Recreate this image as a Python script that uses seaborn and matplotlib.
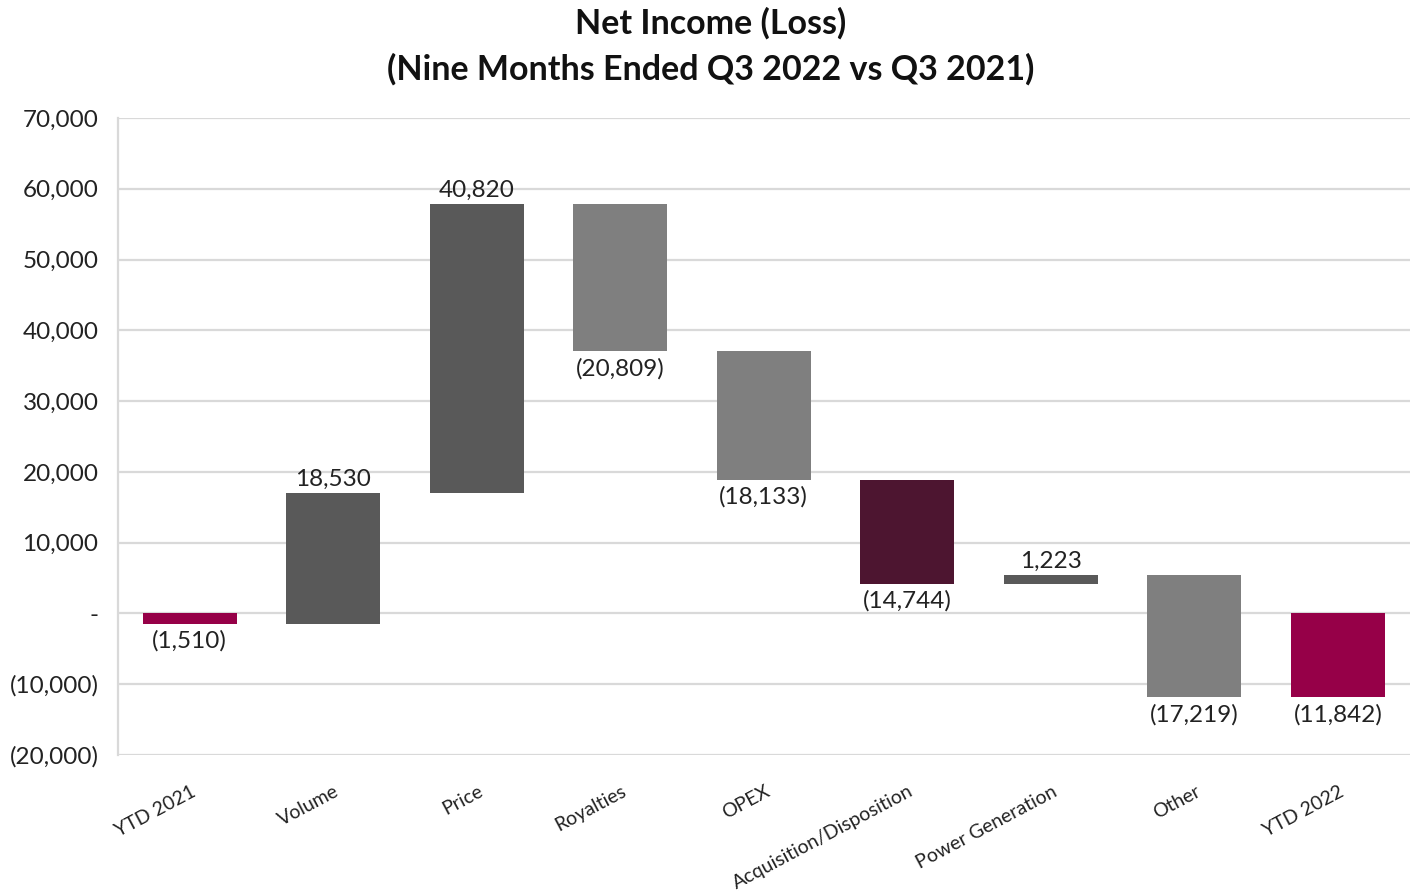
import matplotlib
matplotlib.use("Agg")
import matplotlib.pyplot as plt
import matplotlib.transforms as mtrans
import seaborn as sns
import pandas as pd

categories = ["YTD 2021", "Volume", "Price", "Royalties", "OPEX",
              "Acquisition/Disposition", "Power Generation", "Other", "YTD 2022"]
changes = [-1510, 18530, 40820, -20809, -18133, -14744, 1223, -17219, -11842]
is_total = [True, False, False, False, False, False, False, False, True]
bar_colors = ["#960048", "#595959", "#595959", "#7f7f7f", "#7f7f7f",
              "#4d1530", "#595959", "#7f7f7f", "#960048"]
y_ticks = [-20000, -10000, 0, 10000, 20000, 30000, 40000, 50000, 60000, 70000]
y_tick_labels = ["(20,000)", "(10,000)", "-", "10,000", "20,000", "30,000",
                 "40,000", "50,000", "60,000", "70,000"]
title = "Net Income (Loss)\n(Nine Months Ended Q3 2022 vs Q3 2021)"

# compute waterfall bottoms/heights
bottoms, heights = [], []
running = 0
for v, tot in zip(changes, is_total):
    if tot:
        bottoms.append(0)
        heights.append(v)
        running = v
    else:
        bottoms.append(running)
        heights.append(v)
        running += v

df = pd.DataFrame({"cat": categories, "h": heights, "b": bottoms})

sns.set_theme(style="white")
plt.rcParams["font.family"] = ["Lato", "DejaVu Sans"]

fig = plt.figure(figsize=(14.21, 8.92), dpi=100)
ax = fig.add_axes([0.083, 0.1536, 0.909, 0.7141])

sns.barplot(data=df, x="cat", y="h", order=categories, color="#7f7f7f",
            bottom=df["b"].values, width=0.655, ax=ax,
            saturation=1, linewidth=0, zorder=3)
for patch, c in zip(ax.patches, bar_colors):
    patch.set_facecolor(c)
    patch.set_edgecolor(c)

ax.set_xlim(-0.5, len(categories) - 0.5)
ax.set_ylim(-20000, 70000)
ax.set_yticks(y_ticks)
ax.set_yticklabels(y_tick_labels, fontsize=17.5, color="#222222")
ax.yaxis.grid(True, color="#d9d9d9", linewidth=1.6, zorder=0)
ax.set_axisbelow(True)
for s in ["top", "right", "bottom"]:
    ax.spines[s].set_visible(False)
ax.spines["left"].set_color("#d9d9d9")
ax.spines["left"].set_linewidth(1.6)
ax.tick_params(axis="both", length=0)
ax.tick_params(axis="y", pad=14)
ax.set_xlabel("")
ax.set_ylabel("")

ax.set_xticks(range(len(categories)))
ax.set_xticklabels(categories, rotation=28, ha="right", rotation_mode="anchor",
                   fontsize=14, color="#222222")
ax.tick_params(axis="x", pad=20)
offset = mtrans.ScaledTranslation(0.01, 0, fig.dpi_scale_trans)
for lbl in ax.get_xticklabels():
    lbl.set_transform(lbl.get_transform() + offset)

def fmt(v):
    s = f"{abs(v):,}"
    return f"({s})" if v < 0 else s

for i, (h, b) in enumerate(zip(heights, bottoms)):
    top = max(b, b + h)
    low = min(b, b + h)
    if h >= 0:
        ax.text(i, top + 450, fmt(h), ha="center", va="bottom",
                fontsize=17.5, color="#222222")
    else:
        ax.text(i, low - 900, fmt(h), ha="center", va="top",
                fontsize=17.5, color="#222222")

fig.suptitle(title, fontsize=24.5, fontweight="bold", y=0.992, x=0.5,
             linespacing=1.5, color="#111111")

fig.savefig("out.png", dpi=100)
